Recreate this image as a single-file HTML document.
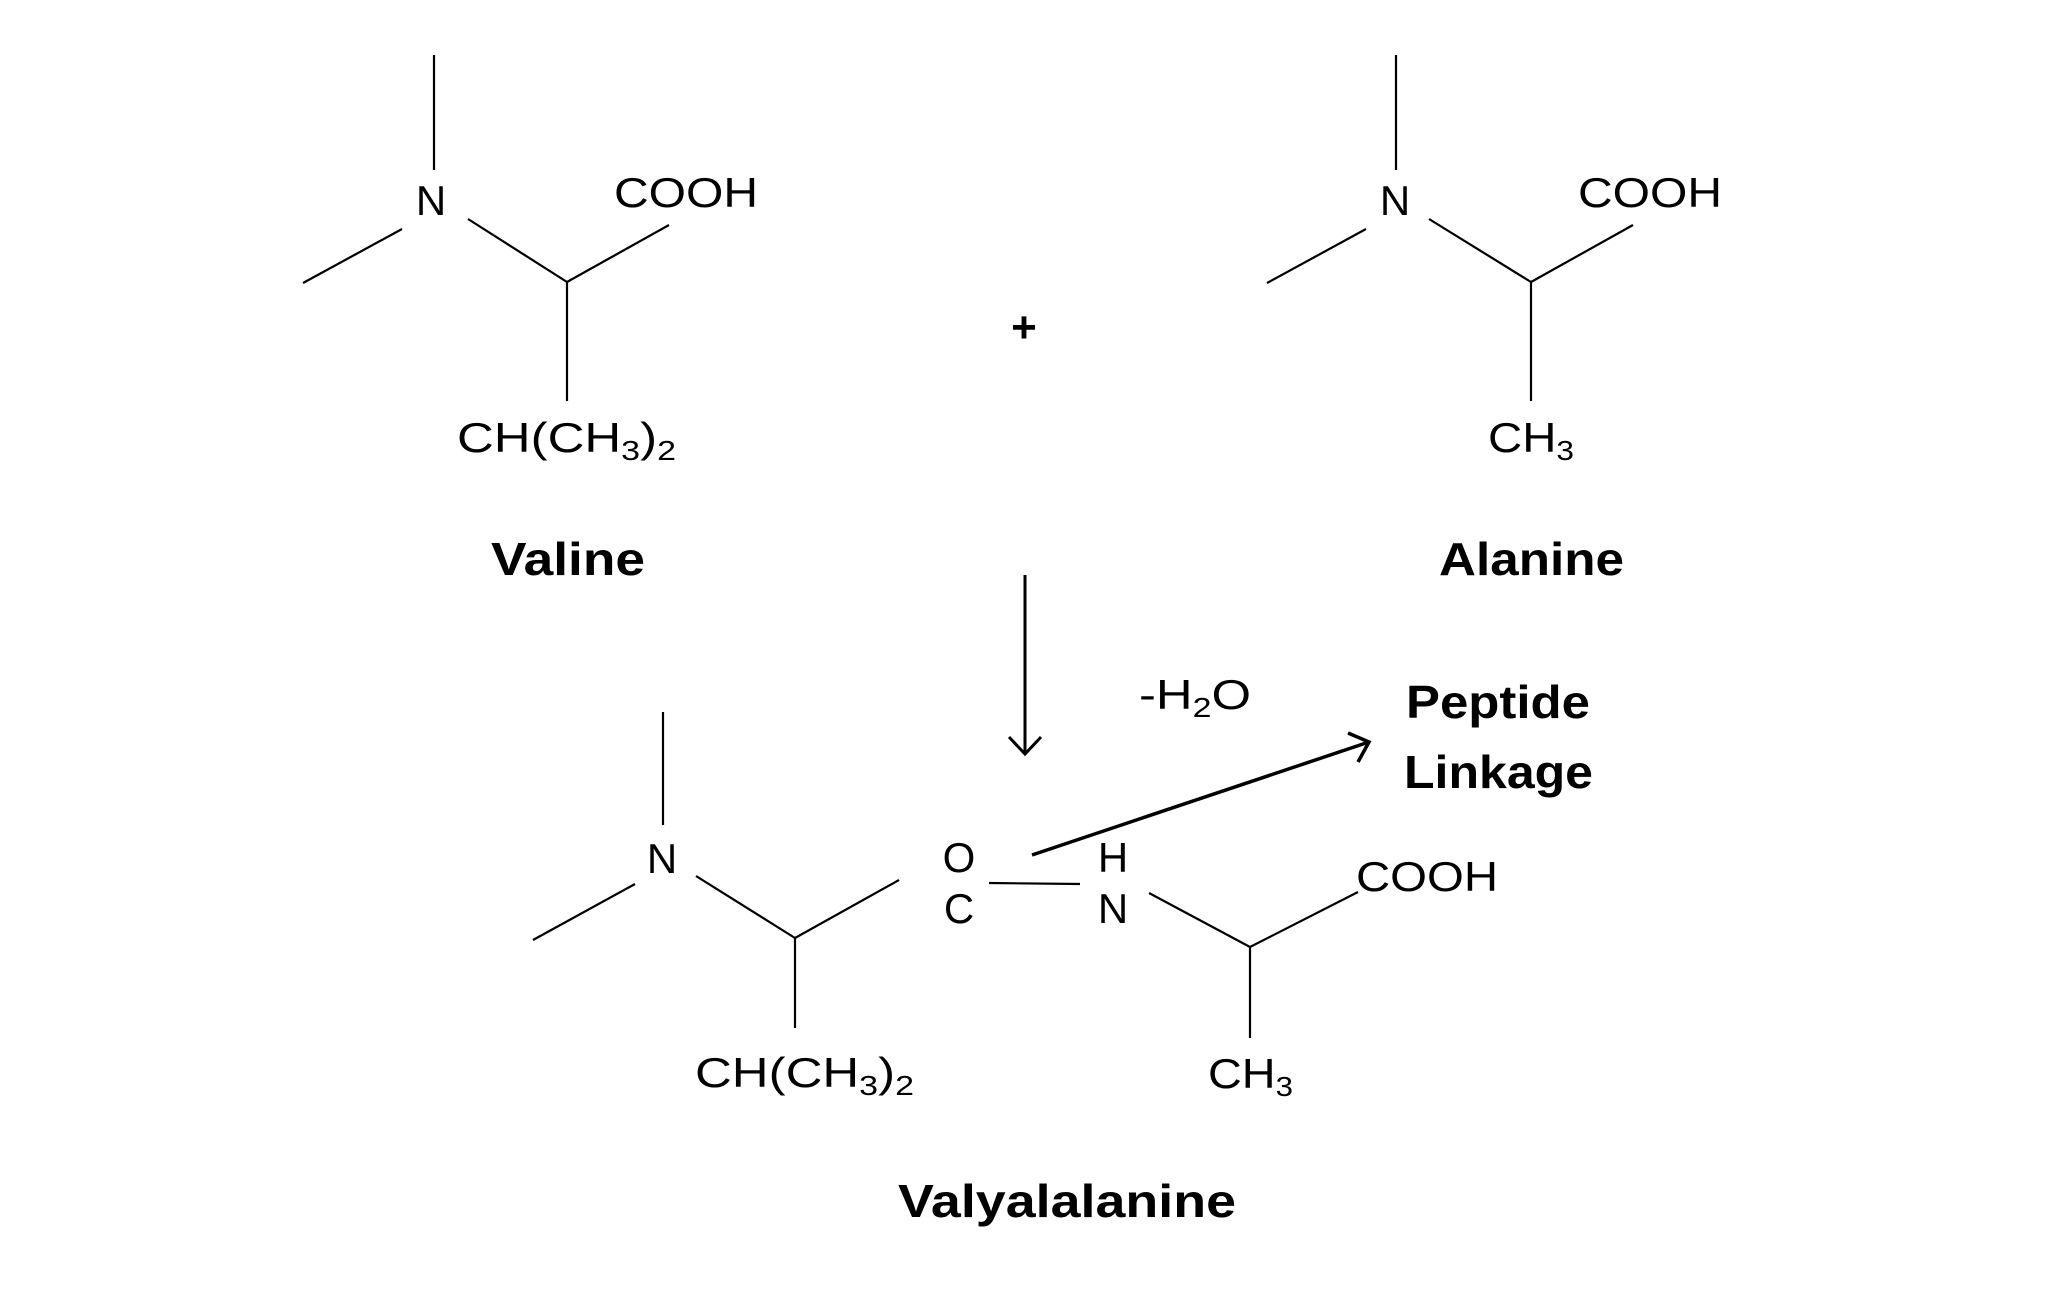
<!DOCTYPE html>
<html><head><meta charset="utf-8"><style>
html,body{margin:0;padding:0;background:#fff;}
svg{display:block;}
text{font-family:"Liberation Sans",sans-serif;fill:#000;}
.b{font-weight:bold;}
</style></head><body>
<svg width="2048" height="1306" viewBox="0 0 2048 1306" xmlns="http://www.w3.org/2000/svg">
<g stroke="#000" stroke-width="2.2" fill="none">
<line x1="434" y1="55" x2="434" y2="170"/>
<line x1="303" y1="283" x2="402" y2="229"/>
<line x1="468" y1="219" x2="567" y2="282"/>
<line x1="567" y1="282" x2="669" y2="225"/>
<line x1="567" y1="282" x2="567" y2="401"/>
<line x1="1396" y1="55" x2="1396" y2="170"/>
<line x1="1267" y1="283" x2="1366" y2="229"/>
<line x1="1429" y1="219" x2="1531" y2="282"/>
<line x1="1531" y1="282" x2="1633" y2="225"/>
<line x1="1531" y1="282" x2="1531" y2="401"/>
<line x1="1025" y1="575" x2="1025" y2="754" stroke-width="3"/>
<polyline points="1009,737 1025,754 1041,737" stroke-width="3"/>
<line x1="1032" y1="855" x2="1369" y2="742" stroke-width="3.5"/>
<polyline points="1348,733 1369,742 1358,762" stroke-width="3.5"/>
<line x1="663" y1="712" x2="663" y2="825"/>
<line x1="533" y1="940" x2="635" y2="884"/>
<line x1="696" y1="876" x2="795" y2="938"/>
<line x1="795" y1="938" x2="899" y2="880"/>
<line x1="795" y1="938" x2="795" y2="1028"/>
<line x1="989" y1="883" x2="1080" y2="884"/>
<line x1="1149" y1="893" x2="1250" y2="947"/>
<line x1="1250" y1="947" x2="1358" y2="892"/>
<line x1="1250" y1="947" x2="1250" y2="1038"/>
</g>
<g font-size="42">
<text x="431" y="215" text-anchor="middle">N</text>
<text x="614" y="207" textLength="144" lengthAdjust="spacingAndGlyphs">COOH</text>
<text x="457" y="452" textLength="219" lengthAdjust="spacingAndGlyphs">CH(CH<tspan font-size="28" dy="8">3</tspan><tspan dy="-8">)</tspan><tspan font-size="28" dy="8">2</tspan></text>
<text x="1395" y="215" text-anchor="middle">N</text>
<text x="1578" y="207" textLength="144" lengthAdjust="spacingAndGlyphs">COOH</text>
<text x="1488" y="452" textLength="86" lengthAdjust="spacingAndGlyphs">CH<tspan font-size="28" dy="8">3</tspan></text>
<text x="1139" y="709" textLength="112" lengthAdjust="spacingAndGlyphs">-H<tspan font-size="28" dy="8">2</tspan><tspan dy="-8">O</tspan></text>
<text x="662" y="873" text-anchor="middle">N</text>
<text x="959" y="872" text-anchor="middle">O</text>
<text x="959" y="923" text-anchor="middle">C</text>
<text x="1113" y="872" text-anchor="middle">H</text>
<text x="1113" y="923" text-anchor="middle">N</text>
<text x="1356" y="891" textLength="142" lengthAdjust="spacingAndGlyphs">COOH</text>
<text x="695" y="1087" textLength="219" lengthAdjust="spacingAndGlyphs">CH(CH<tspan font-size="28" dy="8">3</tspan><tspan dy="-8">)</tspan><tspan font-size="28" dy="8">2</tspan></text>
<text x="1208" y="1088" textLength="85" lengthAdjust="spacingAndGlyphs">CH<tspan font-size="28" dy="8">3</tspan></text>
</g>
<g font-size="46" class="b">
<text x="491" y="575" textLength="154" lengthAdjust="spacingAndGlyphs">Valine</text>
<text x="1439" y="575" textLength="185" lengthAdjust="spacingAndGlyphs">Alanine</text>
<text x="1406" y="718" textLength="184" lengthAdjust="spacingAndGlyphs">Peptide</text>
<text x="1404" y="788" textLength="189" lengthAdjust="spacingAndGlyphs">Linkage</text>
<text x="898" y="1217" textLength="338" lengthAdjust="spacingAndGlyphs">Valyalalanine</text>
</g>
<text x="1024" y="342" font-size="44" class="b" text-anchor="middle">+</text>
</svg>
</body></html>
